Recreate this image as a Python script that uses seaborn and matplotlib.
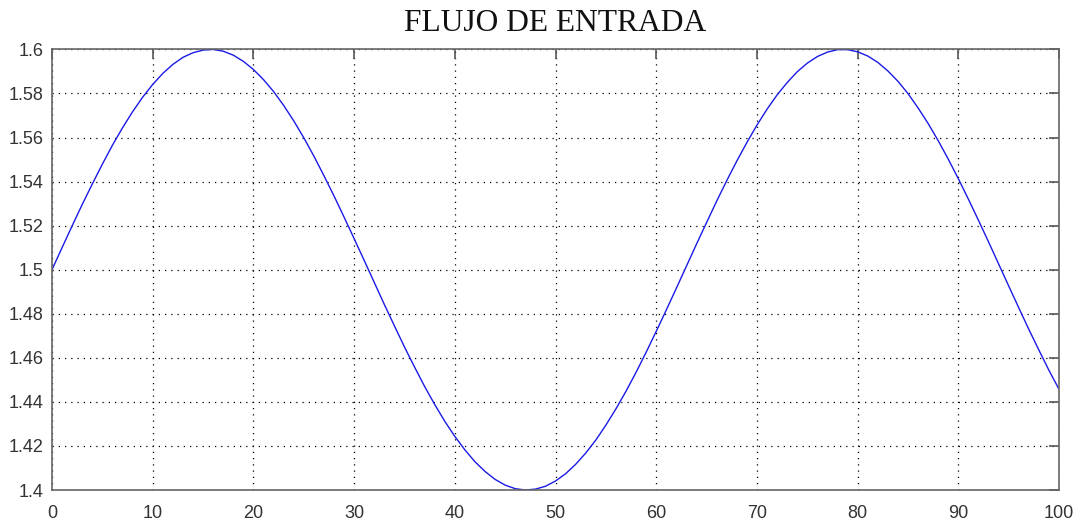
import matplotlib
matplotlib.use("Agg")
import matplotlib.pyplot as plt
import seaborn as sns
import pandas as pd

# Inflow sampled once per time unit
tiempo = list(range(0, 101))
flujo = [1.5000, 1.5100, 1.5199, 1.5296, 1.5389, 1.5479, 1.5565, 1.5644, 1.5717, 1.5783,
         1.5841, 1.5891, 1.5932, 1.5964, 1.5985, 1.5997, 1.6000, 1.5992, 1.5974, 1.5946,
         1.5909, 1.5863, 1.5809, 1.5746, 1.5676, 1.5599, 1.5516, 1.5427, 1.5335, 1.5239,
         1.5141, 1.5042, 1.4942, 1.4842, 1.4745, 1.4649, 1.4558, 1.4470, 1.4388, 1.4312,
         1.4243, 1.4182, 1.4128, 1.4084, 1.4048, 1.4022, 1.4006, 1.4000, 1.4004, 1.4017,
         1.4041, 1.4074, 1.4117, 1.4168, 1.4227, 1.4295, 1.4369, 1.4449, 1.4535, 1.4626,
         1.4721, 1.4818, 1.4917, 1.5017, 1.5117, 1.5215, 1.5312, 1.5405, 1.5494, 1.5578,
         1.5657, 1.5729, 1.5794, 1.5850, 1.5899, 1.5938, 1.5968, 1.5988, 1.5999, 1.5999,
         1.5989, 1.5970, 1.5941, 1.5902, 1.5855, 1.5799, 1.5734, 1.5663, 1.5585, 1.5501,
         1.5412, 1.5319, 1.5223, 1.5125, 1.5025, 1.4925, 1.4826, 1.4728, 1.4634, 1.4542,
         1.4456]

xticks = [0, 10, 20, 30, 40, 50, 60, 70, 80, 90, 100]
yticks = [1.40, 1.42, 1.44, 1.46, 1.48, 1.50, 1.52, 1.54, 1.56, 1.58, 1.60]
ytick_labels = ["1.4", "1.42", "1.44", "1.46", "1.48", "1.5", "1.52", "1.54", "1.56", "1.58", "1.6"]
titulo = "FLUJO DE ENTRADA"

sns.set_theme(style="white")
plt.rcParams["font.family"] = ["Liberation Sans", "DejaVu Sans"]

df = pd.DataFrame({"t": tiempo, "q": flujo})

fig = plt.figure(figsize=(10.83, 5.27), dpi=100)
ax = fig.add_axes([0.048, 0.0702, 0.930, 0.836])

sns.lineplot(data=df, x="t", y="q", ax=ax, color="#1a1ae6", linewidth=1.0)

ax.set_xlim(0, 100)
ax.set_ylim(1.4, 1.6)
ax.set_xticks(xticks)
ax.set_xticklabels([str(v) for v in xticks])
ax.set_yticks(yticks)
ax.set_yticklabels(ytick_labels)
ax.set_xlabel("")
ax.set_ylabel("")

ax.grid(True, color="black", linestyle=(0, (1, 4)), linewidth=0.9)
ax.tick_params(direction="in", length=7, width=1.2, color="#555555",
               top=True, right=True, labelsize=13, labelcolor="#333333")
ax.tick_params(axis="x", pad=11)
ax.tick_params(axis="y", pad=6)
for sp in ax.spines.values():
    sp.set_color("#666666")
    sp.set_linewidth(1.2)

ax.set_title(titulo, fontsize=22.7, family=["Liberation Serif", "DejaVu Serif"],
             color="#111111", pad=13)

fig.savefig("out.png", dpi=100, facecolor="white")
